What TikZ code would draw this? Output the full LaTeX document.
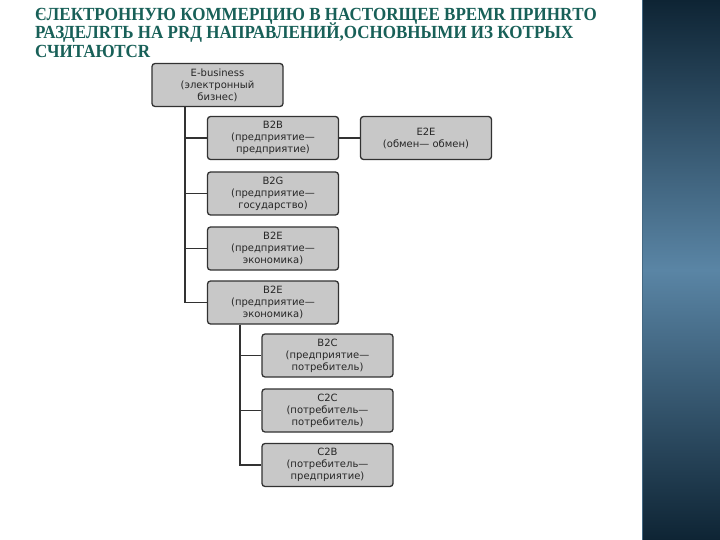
\documentclass[tikz,border=0pt]{standalone}
\usepackage{fontspec}
\setmainfont{Liberation Serif}
\newfontfamily\boxfont{DejaVu Sans}
\definecolor{titlecol}{RGB}{24,96,88}
\definecolor{boxfill}{RGB}{200,200,200}
\definecolor{boxline}{RGB}{50,50,50}
\definecolor{paneldark}{RGB}{14,36,52}
\definecolor{panelmid}{RGB}{90,133,165}
\tikzset{
  orgbox/.style={draw=boxline, line width=1.3pt, fill=boxfill, rounded corners=3pt,
    minimum width=131pt, minimum height=43pt, inner sep=1pt, align=center,
    font=\boxfont\fontsize{10}{12}\selectfont, text=black!85},
  link/.style={draw=boxline, line width=1.2pt},
  titleline/.style={anchor=base west, inner sep=0pt, text=titlecol,
    font=\bfseries\fontsize{18.5}{18.5}\selectfont}
}
\begin{document}
\begin{tikzpicture}[x=1pt,y=-1pt]
\useasboundingbox (0,0) rectangle (720,540);
\fill[white] (0,0) rectangle (720,540);
\shade[top color=paneldark, bottom color=paneldark, middle color=panelmid] (642,0) rectangle (720,540);
\draw[line width=1pt, color=panelmid!70!paneldark] (642.5,0) -- (642.5,540);

\node[titleline] (t1) at (35,20.5) {\scalebox{0.92}[1]{ЄЛЕКТРОННУЮ КОММЕРЦИЮ В НАСТОRЩЕЕ ВРЕМR ПРИНRТО}};
\node[titleline] (t2) at (35,39) {\scalebox{0.92}[1]{РАЗДЕЛRТЬ НА РRД НАПРАВЛЕНИЙ,ОСНОВНЫМИ ИЗ КОТРЫХ}};
\node[titleline] (t3) at (35,57.5) {\scalebox{0.92}[1]{СЧИТАЮТСR}};

\node[orgbox] (ebiz) at (217.5,85) {E-business\\(электронный\\бизнес)};
\node[orgbox] (b2b) at (273,138) {B2B\\(предприятие—\\предприятие)};
\node[orgbox] (e2e) at (426,138) {E2E\\(обмен— обмен)};
\node[orgbox] (b2g) at (273,193.5) {B2G\\(предприятие—\\государство)};
\node[orgbox] (b2ea) at (273,248.5) {B2E\\(предприятие—\\экономика)};
\node[orgbox] (b2eb) at (273,302.5) {B2E\\(предприятие—\\экономика)};
\node[orgbox] (b2c) at (327.5,355.5) {B2C\\(предприятие—\\потребитель)};
\node[orgbox] (c2c) at (327.5,410.5) {C2C\\(потребитель—\\потребитель)};
\node[orgbox] (c2b) at (327.5,465) {C2B\\(потребитель—\\предприятие)};

\coordinate (tr1) at (185,0);
\coordinate (tr2) at (240,0);

\draw[link] (ebiz.south -| tr1) |- (b2b.west);
\draw[link] (ebiz.south -| tr1) |- (b2g.west);
\draw[link] (ebiz.south -| tr1) |- (b2ea.west);
\draw[link] (ebiz.south -| tr1) |- (b2eb.west);
\draw[link] (b2b.east) -- (e2e.west);
\draw[link] (b2eb.south -| tr2) |- (b2c.west);
\draw[link] (b2eb.south -| tr2) |- (c2c.west);
\draw[link] (b2eb.south -| tr2) |- (c2b.west);
\end{tikzpicture}
\end{document}
